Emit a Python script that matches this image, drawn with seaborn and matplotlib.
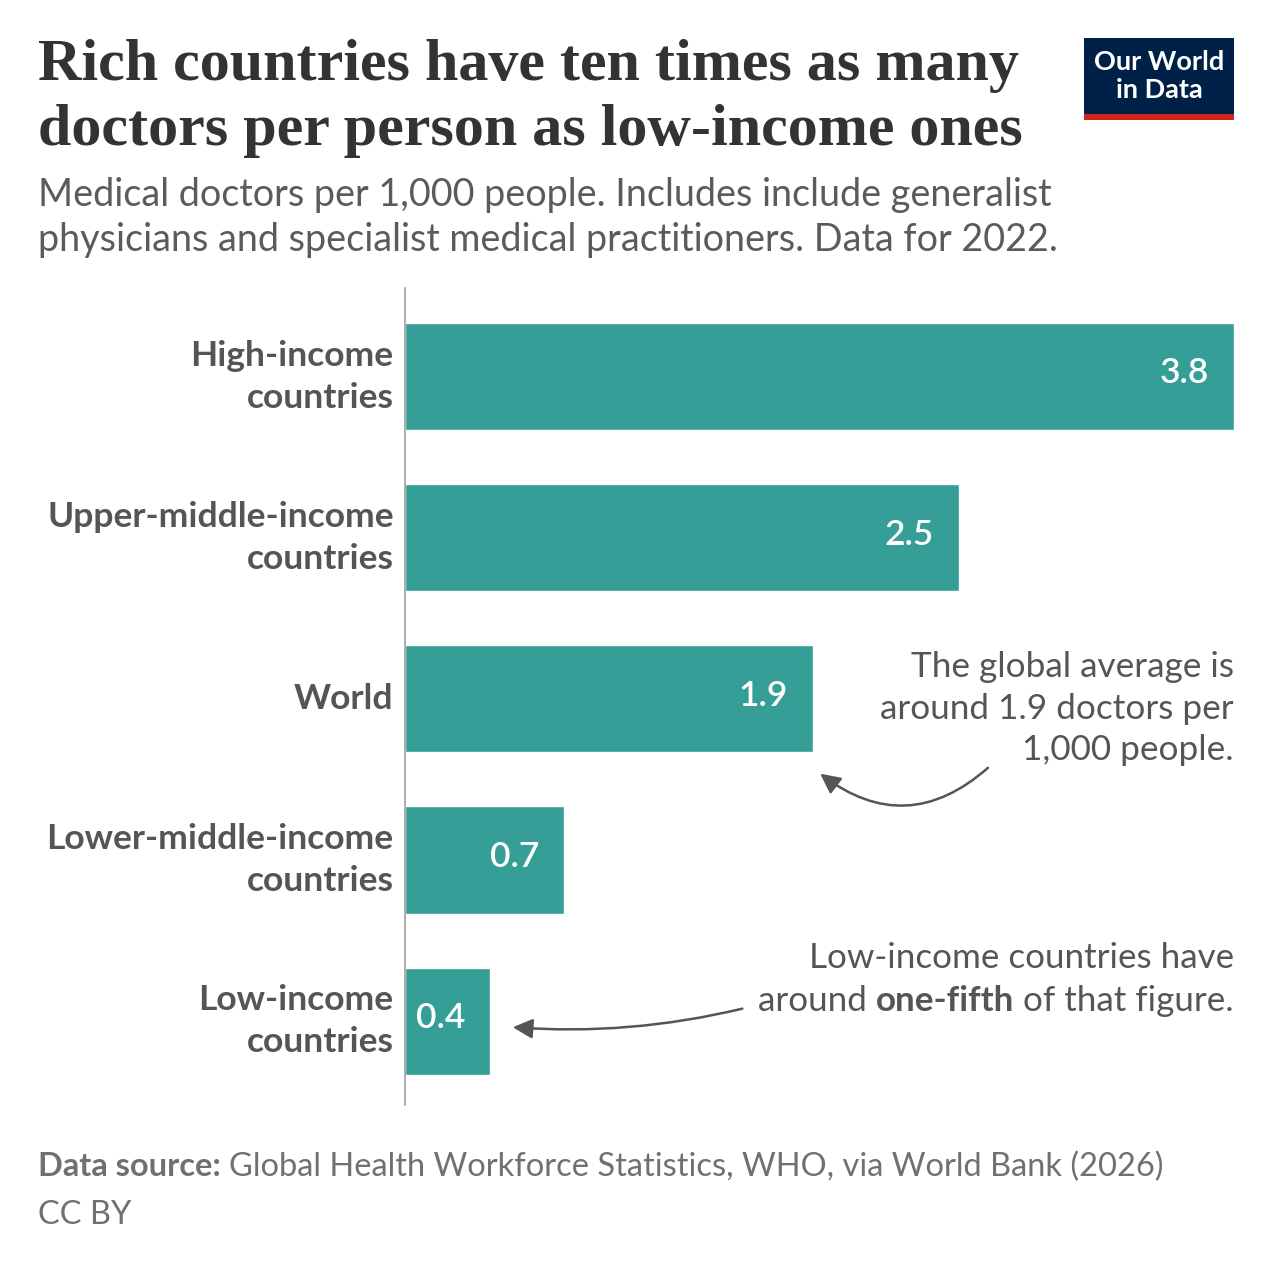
import matplotlib
matplotlib.use("Agg")
import matplotlib.pyplot as plt
import seaborn as sns
import pandas as pd
from matplotlib.patches import Rectangle, FancyArrowPatch

categories = ["High-income\ncountries", "Upper-middle-income\ncountries", "World",
              "Lower-middle-income\ncountries", "Low-income\ncountries"]
values = [3.80, 2.54, 1.87, 0.73, 0.39]
value_labels = ["3.8", "2.5", "1.9", "0.7", "0.4"]

title_lines = ["Rich countries have ten times as many",
               "doctors per person as low-income ones"]
subtitle_lines = ["Medical doctors per 1,000 people. Includes include generalist",
                  "physicians and specialist medical practitioners. Data for 2022."]

TEAL = "#359e96"
TXT = "#555555"
W = H = 1272

sns.set_theme(style="white")
plt.rcParams["font.family"] = ["Lato", "DejaVu Sans"]

fig = plt.figure(figsize=(12.72, 12.72), dpi=100)
fig.patch.set_facecolor("white")

def fx(px):
    return px / W

def fy(py):
    return 1 - py / H

ax = fig.add_axes([fx(405), fy(1105), fx(1234) - fx(405), (1105 - 288) / H])
df = pd.DataFrame({"cat": categories, "val": values})
sns.barplot(data=df, x="val", y="cat", orient="h", color=TEAL, width=0.665,
            saturation=1, ax=ax)
ax.set_xlim(0, 3.8)
ax.set_ylim(4.52, -0.55)
ax.set_xlabel("")
ax.set_ylabel("")
ax.set_xticks([])
ax.set_yticks([])
for s in ["top", "right", "bottom"]:
    ax.spines[s].set_visible(False)
ax.spines["left"].set_color("#a0a0a0")
ax.spines["left"].set_linewidth(1.2)

# category labels
for i, c in enumerate(categories):
    ax.text(-0.052, i, c, ha="right", va="center", fontsize=25.5, fontweight="bold",
            color=TXT, linespacing=1.38)

# value labels inside bars
for i, (v, lab) in enumerate(zip(values, value_labels)):
    ax.text(v - 0.115, i - 0.02, lab, ha="right", va="center", fontsize=25.5,
            fontweight="semibold", color="white")

# annotations
ax.text(3.8, 2.06, "The global average is\naround 1.9 doctors per\n1,000 people.",
        ha="right", va="center", fontsize=25.3, color=TXT, linespacing=1.38)
arr1 = FancyArrowPatch((fx(990), fy(766)), (fx(818), fy(772)), transform=fig.transFigure,
                       connectionstyle="arc3,rad=-0.42", arrowstyle="-|>,head_length=12,head_width=6",
                       color="#555555", lw=1.8)
fig.patches.append(arr1)

fig.text(fx(1234), fy(958), "Low-income countries have", ha="right", va="center",
         fontsize=25.2, color=TXT)
fig.canvas.draw()
r = fig.canvas.get_renderer()
parts = [("around ", "normal"), ("one-fifth", "bold"), (" of that figure.", "normal")]
objs = []
for txt, w in parts:
    objs.append(fig.text(0, fy(1001), txt, ha="left", va="center", fontsize=25.2,
                         color=TXT, fontweight=w))
widths = [o.get_window_extent(r).width for o in objs]
x = 1234 - sum(widths)
for o, wd in zip(objs, widths):
    o.set_x(fx(x))
    x += wd

arr2 = FancyArrowPatch((fx(745), fy(1008)), (fx(510), fy(1027)), transform=fig.transFigure,
                       connectionstyle="arc3,rad=-0.08", arrowstyle="-|>,head_length=12,head_width=6",
                       color="#555555", lw=1.8)
fig.patches.append(arr2)

# title and subtitle
for line, py in zip(title_lines, [66, 131]):
    fig.text(fx(38), fy(py), line, ha="left", va="center",
             fontsize=43.3, fontweight="bold", color="#333333",
             family=["Liberation Serif", "DejaVu Serif"])
for line, py in zip(subtitle_lines, [195, 240]):
    fig.text(fx(38), fy(py), line, ha="left", va="center", fontsize=27.2, color="#5b5b5b")

# footer
f1 = fig.text(fx(38), fy(1167), "Data source:", ha="left", va="center", fontsize=23.5,
              fontweight="bold", color="#707070")
fig.canvas.draw()
wf = f1.get_window_extent(r).width
fig.text(fx(38 + wf + 8), fy(1167), "Global Health Workforce Statistics, WHO, via World Bank (2026)",
         ha="left", va="center", fontsize=23.5, color="#707070")
fig.text(fx(38), fy(1215), "CC BY", ha="left", va="center", fontsize=23.5, color="#707070")

# logo
fig.patches.append(Rectangle((fx(1084), fy(114)), fx(150), 76 / H, transform=fig.transFigure,
                             facecolor="#002147", edgecolor="none"))
fig.patches.append(Rectangle((fx(1084), fy(120)), fx(150), 6 / H, transform=fig.transFigure,
                             facecolor="#ce261e", edgecolor="none"))
fig.text(fx(1159), fy(62), "Our World", ha="center", va="center", fontsize=19.5,
         fontweight="bold", color="white")
fig.text(fx(1159), fy(90), "in Data", ha="center", va="center", fontsize=19.5,
         fontweight="bold", color="white")

fig.savefig("out.png", dpi=100, facecolor="white")
